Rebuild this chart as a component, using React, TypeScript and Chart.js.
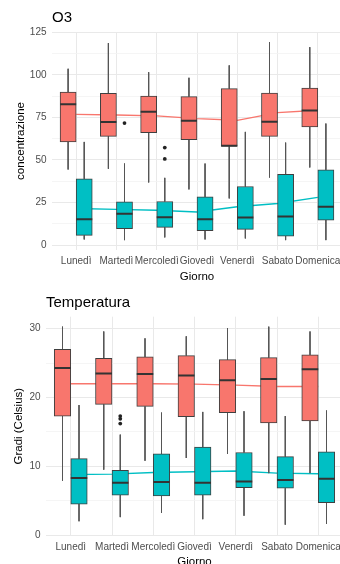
import React, { useEffect, useRef } from 'react';
import { Chart, registerables } from 'chart.js';

Chart.register(...registerables);

// ---------- data ----------
const DAYS = ['Lunedì', 'Martedì', 'Mercoledì', 'Giovedì', 'Venerdì', 'Sabato', 'Domenica'];

// O3 – first group (red)
const O3_RED_LOW = [44.4, 44.8, 36.8, 32.7, 27.4, 39.7, 45.6];
const O3_RED_Q1 = [60.6, 63.9, 66.1, 62.0, 58.1, 63.9, 69.4];
const O3_RED_MED = [82.7, 72.3, 78.4, 73.1, 58.3, 72.5, 79.1];
const O3_RED_Q3 = [89.9, 89.1, 87.6, 87.2, 91.9, 89.3, 92.3];
const O3_RED_HIGH = [103.6, 118.7, 101.6, 98.3, 105.6, 119.2, 116.3];
const O3_RED_TREND = [76.8, 76.4, 75.9, 74.3, 73.3, 77.8, 79.2];

// O3 – second group (teal)
const O3_TEAL_LOW = [3.3, 2.9, 4.5, 3.3, 3.9, 2.9, 2.9];
const O3_TEAL_Q1 = [5.7, 9.6, 10.4, 8.4, 9.2, 5.3, 14.7];
const O3_TEAL_MED = [15.2, 18.4, 16.4, 15.2, 16.2, 16.8, 22.5];
const O3_TEAL_Q3 = [38.9, 25.4, 25.6, 28.3, 34.4, 41.5, 44.2];
const O3_TEAL_HIGH = [60.6, 47.9, 39.5, 47.9, 66.5, 60.2, 71.4];
const O3_TEAL_TREND = [21.5, 21.0, 20.5, 19.4, 22.5, 24.4, 28.0];
const O3_TEAL_OUT_DAY = [1, 2, 2];
const O3_TEAL_OUT_VAL = [71.7, 57.3, 50.6];

const O3_MAJOR_TICKS = [0, 25, 50, 75, 100, 125];
const O3_MINOR_TICKS = [12.5, 37.5, 62.5, 87.5, 112.5];

// Temperatura – first group (red)
const T_RED_LOW = [7.9, 9.5, 10.8, 11.2, 11.8, 9.0, 9.0];
const T_RED_Q1 = [17.3, 19.0, 18.7, 17.2, 17.8, 16.3, 16.6];
const T_RED_MED = [24.3, 23.5, 23.4, 23.2, 22.5, 22.7, 24.1];
const T_RED_Q3 = [27.0, 25.7, 25.9, 26.1, 25.5, 25.8, 26.2];
const T_RED_HIGH = [30.3, 29.6, 28.6, 28.9, 30.1, 30.3, 29.6];
const T_RED_TREND = [22.0, 22.0, 22.0, 21.95, 21.8, 21.6, 21.6];

// Temperatura – second group (teal)
const T_TEAL_LOW = [2.0, 2.6, 3.2, 2.3, 2.8, 1.5, 1.6];
const T_TEAL_Q1 = [4.5, 5.8, 5.7, 5.8, 6.9, 6.8, 4.7];
const T_TEAL_MED = [8.3, 7.6, 7.7, 7.6, 7.8, 8.0, 8.2];
const T_TEAL_Q3 = [11.1, 9.4, 11.8, 12.8, 12.0, 11.4, 12.1];
const T_TEAL_HIGH = [18.9, 14.6, 17.8, 17.9, 18.0, 17.3, 18.1];
const T_TEAL_TREND = [8.8, 8.85, 9.1, 9.2, 9.3, 9.0, 8.9];
const T_TEAL_OUT_DAY = [1, 1, 1];
const T_TEAL_OUT_VAL = [17.3, 16.9, 16.2];

const T_MAJOR_TICKS = [0, 10, 20, 30];
const T_MINOR_TICKS = [5, 15, 25];

// ---------- styling ----------
const RED = '#F8766D';
const TEAL = '#00BFC4';
const OUTLINE = '#3f3f3f';
const WHISKER = '#555555';
const FONT = '"Liberation Sans", Arial, Helvetica, sans-serif';
const TICK_COLOR = '#4d4d4d';
const GRID_MAJOR = '#e9e9e9';
const GRID_MINOR = '#f3f3f3';
const HALF = 0.2; // half of the dodge offset (box centre offset in category units)

type Group = { low: number[]; q1: number[]; med: number[]; q3: number[]; high: number[]; trend: number[] };

type PanelSpec = {
  title: string;
  yTitle: string;
  red: Group;
  teal: Group;
  outDay: number[];
  outVal: number[];
  major: number[];
  minor: number[];
  yMin: number;
  yMax: number;
  yWidth: number;
  yTitlePad: number;
  titlePadTop: number;
  titlePadBottom: number;
  xHeight: number;
  padRight: number;
  barThickness: number;
};

function whiskerData(g: Group, dx: number) {
  const pts: any[] = [];
  DAYS.forEach((_, i) => {
    const x = i + dx;
    pts.push({ x, y: g.high[i] }, { x, y: g.q3[i] }, { x, y: null });
    pts.push({ x, y: g.q1[i] }, { x, y: g.low[i] }, { x, y: null });
  });
  return pts;
}

function medianData(g: Group, x0: number, x1: number) {
  const pts: any[] = [];
  DAYS.forEach((_, i) => {
    pts.push({ x: i + x0, y: g.med[i] }, { x: i + x1, y: g.med[i] }, { x: i + x1, y: null });
  });
  return pts;
}

function makeConfig(p: PanelSpec): any {
  const allY = [...p.major, ...p.minor].sort((a, b) => a - b);
  const lineBase = { type: 'line', pointRadius: 0, pointHoverRadius: 0, spanGaps: false, fill: false };
  return {
    type: 'bar',
    data: {
      datasets: [
        { ...lineBase, data: DAYS.map((_, i) => ({ x: i, y: p.red.trend[i] })), borderColor: RED, borderWidth: 1.4, order: 6 },
        { ...lineBase, data: DAYS.map((_, i) => ({ x: i, y: p.teal.trend[i] })), borderColor: TEAL, borderWidth: 1.4, order: 6 },
        { ...lineBase, data: whiskerData(p.red, -HALF), borderColor: WHISKER, borderWidth: 1, order: 5 },
        { ...lineBase, data: whiskerData(p.teal, HALF), borderColor: WHISKER, borderWidth: 1, order: 5 },
        {
          type: 'bar',
          data: DAYS.map((_, i) => ({ x: i, y: [p.red.q1[i], p.red.q3[i]] })),
          backgroundColor: RED,
          borderColor: OUTLINE,
          borderWidth: 1,
          borderSkipped: false,
          barThickness: p.barThickness,
          order: 4,
        },
        {
          type: 'bar',
          data: DAYS.map((_, i) => ({ x: i, y: [p.teal.q1[i], p.teal.q3[i]] })),
          backgroundColor: TEAL,
          borderColor: OUTLINE,
          borderWidth: 1,
          borderSkipped: false,
          barThickness: p.barThickness,
          order: 4,
        },
        { ...lineBase, data: medianData(p.red, -2 * HALF, 0), borderColor: '#333333', borderWidth: 2, borderCapStyle: 'butt', order: 3 },
        { ...lineBase, data: medianData(p.teal, 0, 2 * HALF), borderColor: '#333333', borderWidth: 2, borderCapStyle: 'butt', order: 3 },
        {
          type: 'scatter',
          data: p.outDay.map((d, k) => ({ x: d + HALF, y: p.outVal[k] })),
          backgroundColor: '#222222',
          borderWidth: 0,
          pointRadius: 1.9,
          pointHoverRadius: 1.9,
          order: 1,
        },
      ],
    },
    options: {
      responsive: false,
      maintainAspectRatio: false,
      animation: false,
      events: [],
      layout: { padding: { left: 0, right: p.padRight, top: 0, bottom: 0 } },
      plugins: {
        legend: { display: false },
        tooltip: { enabled: false },
        title: {
          display: true,
          text: p.title,
          align: 'start',
          fullSize: false,
          color: '#000000',
          font: { family: FONT, size: 15, weight: 'normal', lineHeight: 1.2 },
          padding: { top: p.titlePadTop, bottom: p.titlePadBottom },
        },
      },
      scales: {
        x: {
          type: 'linear',
          min: -0.6,
          max: DAYS.length - 1 + 0.6,
          offset: false,
          grid: { offset: false, color: GRID_MAJOR, lineWidth: 1, drawTicks: false },
          border: { display: false },
          afterBuildTicks: (axis: any) => {
            axis.ticks = DAYS.map((_, i) => ({ value: i }));
          },
          afterFit: (s: any) => {
            s.height = p.xHeight;
            s.paddingLeft = 0;
            s.paddingRight = 0;
          },
          ticks: {
            autoSkip: false,
            maxRotation: 0,
            minRotation: 0,
            padding: 5.5,
            color: TICK_COLOR,
            font: { family: FONT, size: 10, lineHeight: 1.2 },
            callback: (v: any) => DAYS[Math.round(Number(v))] ?? '',
          },
          title: {
            display: true,
            text: 'Giorno',
            color: '#000000',
            font: { family: FONT, size: 11.5, lineHeight: 1.2 },
            padding: { top: 0, bottom: 0 },
          },
        },
        y: {
          type: 'linear',
          min: p.yMin,
          max: p.yMax,
          beginAtZero: false,
          grid: {
            drawTicks: false,
            color: (ctx: any) => (ctx.tick && p.major.includes(ctx.tick.value) ? GRID_MAJOR : GRID_MINOR),
            lineWidth: (ctx: any) => (ctx.tick && p.major.includes(ctx.tick.value) ? 1 : 0.8),
          },
          border: { display: false },
          afterBuildTicks: (axis: any) => {
            axis.ticks = allY.map((v) => ({ value: v }));
          },
          afterFit: (s: any) => {
            s.width = p.yWidth;
            s.paddingTop = 0;
            s.paddingBottom = 0;
          },
          ticks: {
            autoSkip: false,
            padding: 5.5,
            color: TICK_COLOR,
            font: { family: FONT, size: 10, lineHeight: 1.2 },
            callback: (v: any) => (p.major.includes(Number(v)) ? String(v) : ''),
          },
          title: {
            display: true,
            text: p.yTitle,
            color: '#000000',
            font: { family: FONT, size: 11.5, lineHeight: 1.2 },
            padding: { top: p.yTitlePad, bottom: 0 },
          },
        },
      },
    },
  };
}

const O3_PANEL: PanelSpec = {
  title: 'O3',
  yTitle: 'concentrazione',
  red: { low: O3_RED_LOW, q1: O3_RED_Q1, med: O3_RED_MED, q3: O3_RED_Q3, high: O3_RED_HIGH, trend: O3_RED_TREND },
  teal: { low: O3_TEAL_LOW, q1: O3_TEAL_Q1, med: O3_TEAL_MED, q3: O3_TEAL_Q3, high: O3_TEAL_HIGH, trend: O3_TEAL_TREND },
  outDay: O3_TEAL_OUT_DAY,
  outVal: O3_TEAL_OUT_VAL,
  major: O3_MAJOR_TICKS,
  minor: O3_MINOR_TICKS,
  yMin: -2.9,
  yMax: 125.2,
  yWidth: 52,
  yTitlePad: 13.6,
  titlePadTop: 9,
  titlePadBottom: 5,
  xHeight: 34,
  padRight: 3,
  barThickness: 16.1,
};

const TEMP_PANEL: PanelSpec = {
  title: 'Temperatura',
  yTitle: 'Gradi (Celsius)',
  red: { low: T_RED_LOW, q1: T_RED_Q1, med: T_RED_MED, q3: T_RED_Q3, high: T_RED_HIGH, trend: T_RED_TREND },
  teal: { low: T_TEAL_LOW, q1: T_TEAL_Q1, med: T_TEAL_MED, q3: T_TEAL_Q3, high: T_TEAL_HIGH, trend: T_TEAL_TREND },
  outDay: T_TEAL_OUT_DAY,
  outVal: T_TEAL_OUT_VAL,
  major: T_MAJOR_TICKS,
  minor: T_MINOR_TICKS,
  yMin: -0.1,
  yMax: 31.75,
  yWidth: 46,
  yTitlePad: 12.1,
  titlePadTop: 7,
  titlePadBottom: 4.7,
  xHeight: 33.3,
  padRight: 2,
  barThickness: 16.5,
};

function ChartCanvas({ spec, top, width, height }: { spec: PanelSpec; top: number; width: number; height: number }) {
  const ref = useRef<HTMLCanvasElement | null>(null);
  useEffect(() => {
    if (!ref.current) return;
    const chart = new Chart(ref.current, makeConfig(spec));
    return () => chart.destroy();
  }, [spec]);
  return (
    <canvas
      ref={ref}
      width={width}
      height={height}
      style={{ position: 'absolute', left: 0, top, width, height, display: 'block' }}
    />
  );
}

export default function App() {
  return (
    <div
      style={{
        position: 'absolute',
        left: 0,
        top: 0,
        width: 340,
        height: 564,
        overflow: 'hidden',
        background: '#ffffff',
      }}
    >
      <ChartCanvas spec={O3_PANEL} top={0} width={345} height={284} />
      <ChartCanvas spec={TEMP_PANEL} top={287} width={345} height={282} />
    </div>
  );
}
